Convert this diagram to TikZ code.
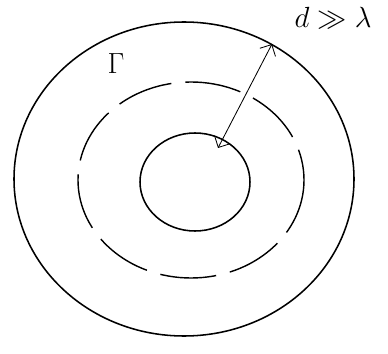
\documentclass[tikz,border=0pt]{standalone}
\usepackage{amsmath,amssymb}
\usetikzlibrary{arrows.meta,calc}
\tikzset{
  ring/.style={line width=1.1pt},
  wavy/.style={line width=1pt,dash pattern=on 40pt off 10pt},
  gap/.style={{Straight Barb[length=2.2mm]}-{Straight Barb[length=2.2mm]},line width=0.6pt},
  lbl/.style={font=\huge,inner sep=1pt},
}
\begin{document}
\begin{tikzpicture}[x=0.025cm,y=-0.025cm]
  \useasboundingbox (0,0) rectangle (388,354);
  % outer boundary, fluctuating shell, inner body
  \draw[ring] (184,179) ellipse [x radius=170, y radius=157];
  \draw[wavy] (191,180) ellipse [x radius=113, y radius=98];
  \draw[ring] (195,182) ellipse [x radius=55, y radius=49];
  \coordinate (outerpt) at (272,44);
  \coordinate (innerpt) at (218,148);
  \draw[gap] (outerpt) -- (innerpt);
  \node[lbl] (dist) at (333,18) {$d \gg \lambda$};
  \node[lbl] (gam) at (116,64) {$\Gamma$};
\end{tikzpicture}
\end{document}
